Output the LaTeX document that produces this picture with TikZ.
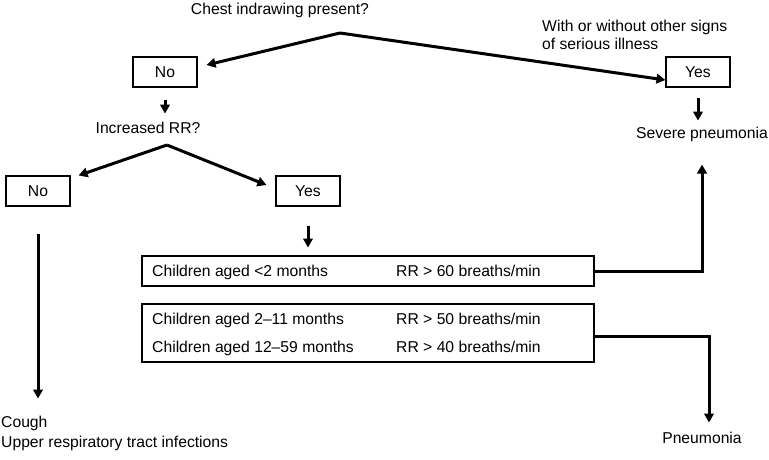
\documentclass[tikz,border=0pt]{standalone}
\usepackage{fontspec}
\setmainfont{Liberation Sans}
\usetikzlibrary{arrows.meta,positioning}

\begin{document}
\begin{tikzpicture}[
    x=1pt,y=-1pt,
    font=\fontsize{15.7}{18}\selectfont,
    box/.style={draw=black,line width=1.1pt,fill=none,
      minimum width=64pt,minimum height=30pt,inner sep=0pt},
    agebox/.style={draw=black,line width=1.1pt,fill=none,
      minimum width=452pt,inner sep=0pt},
    lbl/.style={inner sep=0pt,text height=11.3pt,text depth=3.3pt},
    arrow/.style={-{Triangle[length=9pt,width=9.5pt]},draw=black,line width=3pt}
  ]
    \useasboundingbox (0,0) rectangle (769,460);
    % first question
    \node[lbl] (chest) at (280,11) {Chest indrawing present?};
    \coordinate (fork1) at (340,33);
    \node[box] (no1) at (165,72) {No};
    \node[box] (yes1) at (698,72) {Yes};
    \node[inner sep=0pt,align=left,anchor=north west] (signs) at (542,19.5)
      {With or without other signs\\of serious illness};
    \node[lbl] (severe) at (702,134) {Severe pneumonia};
    \draw[arrow] (fork1)--([xshift=9pt,yshift=7pt]no1.east);
    \draw[arrow] (fork1)--([yshift=-8pt]yes1.west);
    \draw[arrow] (yes1.south) ++(0,10)--++(0,23);
    % second question
    \node[lbl] (rr) at (148,129) {Increased RR?};
    \draw[arrow] (no1.south) ++(0,12)--++(0,14);
    \coordinate (fork2) at (167,145);
    \node[box] (no2) at (38,191) {No};
    \node[box] (yes2) at (308,191) {Yes};
    \draw[arrow] (fork2)--([xshift=8pt]no2.north east);
    \draw[arrow] (fork2)--([xshift=-9pt,yshift=6pt]yes2.west);
    \draw[arrow] (yes2.south) ++(0,19)--++(0,22);
    % age groups
    \node[agebox,minimum height=30pt] (young) at (368,271) {};
    \node[agebox,minimum height=58pt] (older) at (368,333) {};
    \node[lbl,anchor=west] (a1) at (152,272) {Children aged <2 months};
    \node[lbl,anchor=west] (r1) at (396,272) {RR > 60 breaths/min};
    \node[lbl,anchor=west] (a2) at (152,320) {Children aged 2--11 months};
    \node[lbl,anchor=west] (r2) at (396,320) {RR > 50 breaths/min};
    \node[lbl,anchor=west] (a3) at (152,348) {Children aged 12--59 months};
    \node[lbl,anchor=west] (r3) at (396,348) {RR > 40 breaths/min};
    % outcomes
    \node[lbl,anchor=west] (cough) at (1,423) {Cough};
    \node[lbl,anchor=west] (uri) at (1,443) {Upper respiratory tract infections};
    \node[lbl] (pneu) at (702,439) {Pneumonia};
    \draw[arrow] (no2.south) ++(0,27)--++(0,165);
    \draw[arrow] (young.east) -| ([yshift=-23pt]severe.south);
    \draw[arrow] ([yshift=-3pt]older.east) -| ([xshift=7pt,yshift=9pt]pneu.north);
  \end{tikzpicture}
\end{document}
